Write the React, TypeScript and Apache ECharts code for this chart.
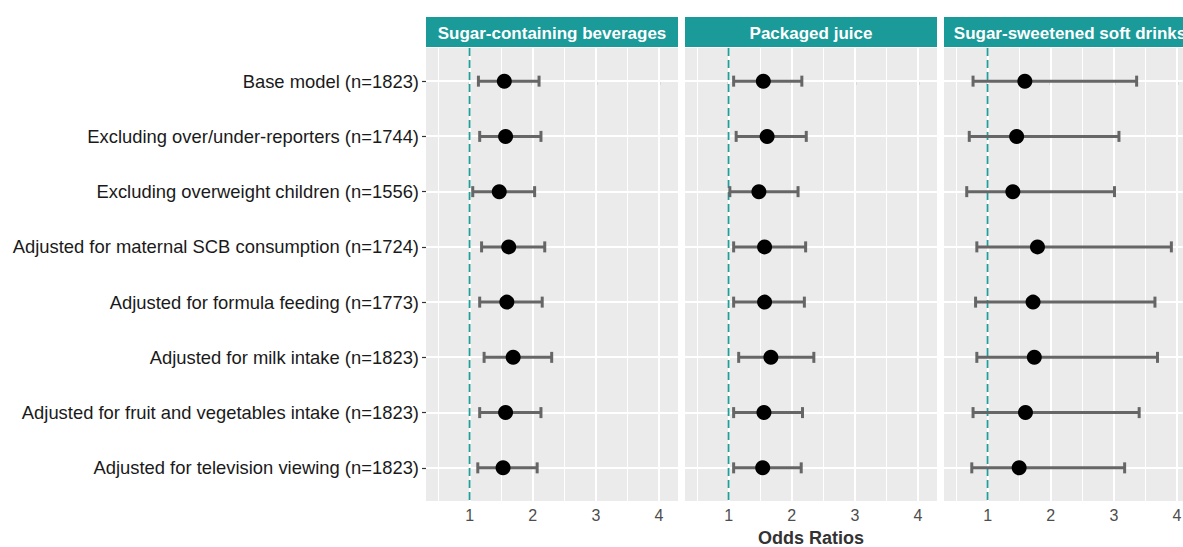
import React, { useEffect, useRef } from "react";
import * as echarts from "echarts";

const rowLabels = [
  "Base model (n=1823)",
  "Excluding over/under-reporters (n=1744)",
  "Excluding overweight children (n=1556)",
  "Adjusted for maternal SCB consumption (n=1724)",
  "Adjusted for formula feeding (n=1773)",
  "Adjusted for milk intake (n=1823)",
  "Adjusted for fruit and vegetables intake (n=1823)",
  "Adjusted for television viewing (n=1823)",
];

const panelTitles = ["Sugar-containing beverages", "Packaged juice", "Sugar-sweetened soft drinks"];

// Sugar-containing beverages
const orSCB = [1.55, 1.57, 1.47, 1.62, 1.59, 1.69, 1.57, 1.53];
const loSCB = [1.14, 1.16, 1.05, 1.19, 1.16, 1.23, 1.16, 1.13];
const hiSCB = [2.1, 2.13, 2.03, 2.19, 2.15, 2.3, 2.13, 2.07];

// Packaged juice
const orPJ = [1.55, 1.61, 1.48, 1.57, 1.57, 1.67, 1.56, 1.54];
const loPJ = [1.08, 1.12, 1.02, 1.08, 1.08, 1.16, 1.08, 1.08];
const hiPJ = [2.16, 2.23, 2.1, 2.22, 2.2, 2.35, 2.17, 2.15];

// Sugar-sweetened soft drinks
const orSSD = [1.59, 1.46, 1.4, 1.79, 1.72, 1.74, 1.6, 1.5];
const loSSD = [0.77, 0.71, 0.67, 0.83, 0.81, 0.83, 0.77, 0.75];
const hiSSD = [3.36, 3.08, 3.01, 3.91, 3.65, 3.69, 3.4, 3.17];

const xTicks = [1, 2, 3, 4];
const xMinorGrid = [0.5, 1.5, 2.5, 3.5];
const refValue = 1;
const xMin = 0.31;
const xMax = 4.3;
const yMin = -0.6;
const yMax = 7.6;

const panels = [
  { or: orSCB, lo: loSCB, hi: hiSCB },
  { or: orPJ, lo: loPJ, hi: hiPJ },
  { or: orSSD, lo: loSSD, hi: hiSSD },
];

const FONT = "'Liberation Sans', Arial, Helvetica, sans-serif";
const STRIP = "#1A9A99";
const panelLeft = [426, 685, 944];
const panelWidth = 252;
const gridTop = 48;
const gridBottom = 46;
const stripTop = 17;
const stripHeight = 30;

export default function App() {
  const ref = useRef<HTMLDivElement>(null);

  useEffect(() => {
    if (!ref.current) return;
    const chart = echarts.init(ref.current, null, { renderer: "svg" });
    const rowIdx = rowLabels.map((_, i) => i);

    const grids = panelLeft.map((left) => ({
      left,
      width: panelWidth,
      top: gridTop,
      bottom: gridBottom,
      show: true,
      backgroundColor: "#EBEBEB",
      borderWidth: 0,
      containLabel: false,
      outerBoundsMode: "none",
    }));

    const xAxes = panelLeft.map((_, gi) => ({
      type: "value",
      gridIndex: gi,
      min: xMin,
      max: xMax,
      axisLine: { show: false },
      splitLine: { show: false },
      axisTick: { show: true, customValues: xTicks, length: 4, lineStyle: { color: "#333333", width: 1.2 } },
      axisLabel: {
        show: true,
        customValues: xTicks,
        color: "#4D4D4D",
        fontSize: 16,
        fontFamily: FONT,
        margin: 6,
      },
      name: gi === 1 ? "Odds Ratios" : "",
      nameLocation: "middle",
      nameGap: 28,
      nameTextStyle: { fontSize: 18, lineHeight: 18, fontWeight: "bold", color: "#333333", fontFamily: FONT },
    }));

    const yAxes = panelLeft.map((_, gi) => ({
      type: "value",
      gridIndex: gi,
      inverse: true,
      min: yMin,
      max: yMax,
      axisLine: { show: false },
      splitLine: { show: false },
      axisTick: { show: gi === 0, customValues: rowIdx, length: 4, lineStyle: { color: "#333333", width: 1.2 } },
      axisLabel: {
        show: gi === 0,
        customValues: rowIdx,
        formatter: (v: number) => rowLabels[Math.round(v)] ?? "",
        color: "#1A1A1A",
        fontSize: 18.4,
        fontFamily: FONT,
        margin: 7,
      },
    }));

    const series: any[] = [];
    panels.forEach((p, gi) => {
      // panel grid lines and reference line, positioned through the axis scale
      series.push({
        type: "custom",
        xAxisIndex: gi,
        yAxisIndex: gi,
        z: 1,
        silent: true,
        data: [[refValue, 0]],
        renderItem: (params: any, api: any) => {
          const children: any[] = [];
          const vline = (x: number, style: any, snap: number | null) => {
            const a = api.coord([x, yMin]);
            const b = api.coord([x, yMax]);
            const px = snap === null ? a[0] : Math.round(a[0]) + snap;
            children.push({
              type: "line",
              shape: { x1: px, y1: a[1], x2: px, y2: b[1] },
              style,
            });
          };
          xMinorGrid.forEach((x) => vline(x, { stroke: "#FFFFFF", lineWidth: 1 }, 0.5));
          xTicks.forEach((x) => vline(x, { stroke: "#FFFFFF", lineWidth: 2 }, 0));
          rowIdx.forEach((i) => {
            const a = api.coord([xMin, i]);
            const b = api.coord([xMax, i]);
            const py = Math.round(a[1]);
            children.push({
              type: "line",
              shape: { x1: a[0], y1: py, x2: b[0], y2: py },
              style: { stroke: "#FFFFFF", lineWidth: 2 },
            });
          });
          vline(api.value(0), { stroke: "#1F9E9A", lineWidth: 1.8, lineDash: [8, 4] }, null);
          return { type: "group", children };
        },
      });
      // error bars
      series.push({
        type: "custom",
        xAxisIndex: gi,
        yAxisIndex: gi,
        z: 3,
        silent: true,
        data: rowIdx.map((i) => [p.lo[i], i, p.hi[i]]),
        encode: { x: [0, 2], y: 1 },
        renderItem: (params: any, api: any) => {
          const lo = api.coord([api.value(0), api.value(1)]);
          const hi = api.coord([api.value(2), api.value(1)]);
          const cap = 5.5;
          const st = { stroke: "#666666", lineWidth: 3 };
          return {
            type: "group",
            children: [
              { type: "line", shape: { x1: lo[0], y1: lo[1], x2: hi[0], y2: hi[1] }, style: st },
              { type: "line", shape: { x1: lo[0], y1: lo[1] - cap, x2: lo[0], y2: lo[1] + cap }, style: st },
              { type: "line", shape: { x1: hi[0], y1: hi[1] - cap, x2: hi[0], y2: hi[1] + cap }, style: st },
            ],
          };
        },
      });
      // points
      series.push({
        type: "scatter",
        xAxisIndex: gi,
        yAxisIndex: gi,
        z: 4,
        silent: true,
        symbol: "circle",
        symbolSize: 15,
        itemStyle: { color: "#000000", opacity: 1 },
        data: rowIdx.map((i) => [p.or[i], i]),
      });
    });

    const graphics: any[] = [];
    panelLeft.forEach((left, gi) => {
      graphics.push({
        type: "rect",
        shape: { x: left, y: stripTop, width: panelWidth, height: stripHeight },
        style: { fill: STRIP },
        silent: true,
      });
      graphics.push({
        type: "text",
        x: left + panelWidth / 2,
        y: stripTop + stripHeight / 2 + 1,
        style: {
          text: panelTitles[gi],
          fill: "#FFFFFF",
          font: `bold 17px ${FONT}`,
          textAlign: "center",
          textVerticalAlign: "middle",
          align: "center",
          verticalAlign: "middle",
        },
        silent: true,
      });
    });

    chart.setOption({
      animation: false,
      backgroundColor: "#FFFFFF",
      textStyle: { fontFamily: FONT },
      grid: grids,
      xAxis: xAxes,
      yAxis: yAxes,
      series,
      graphic: graphics,
    });

    return () => chart.dispose();
  }, []);

  return (
    <div
      ref={ref}
      style={{ position: "absolute", left: 0, top: 0, width: 1183, height: 547, background: "#fff" }}
    />
  );
}
